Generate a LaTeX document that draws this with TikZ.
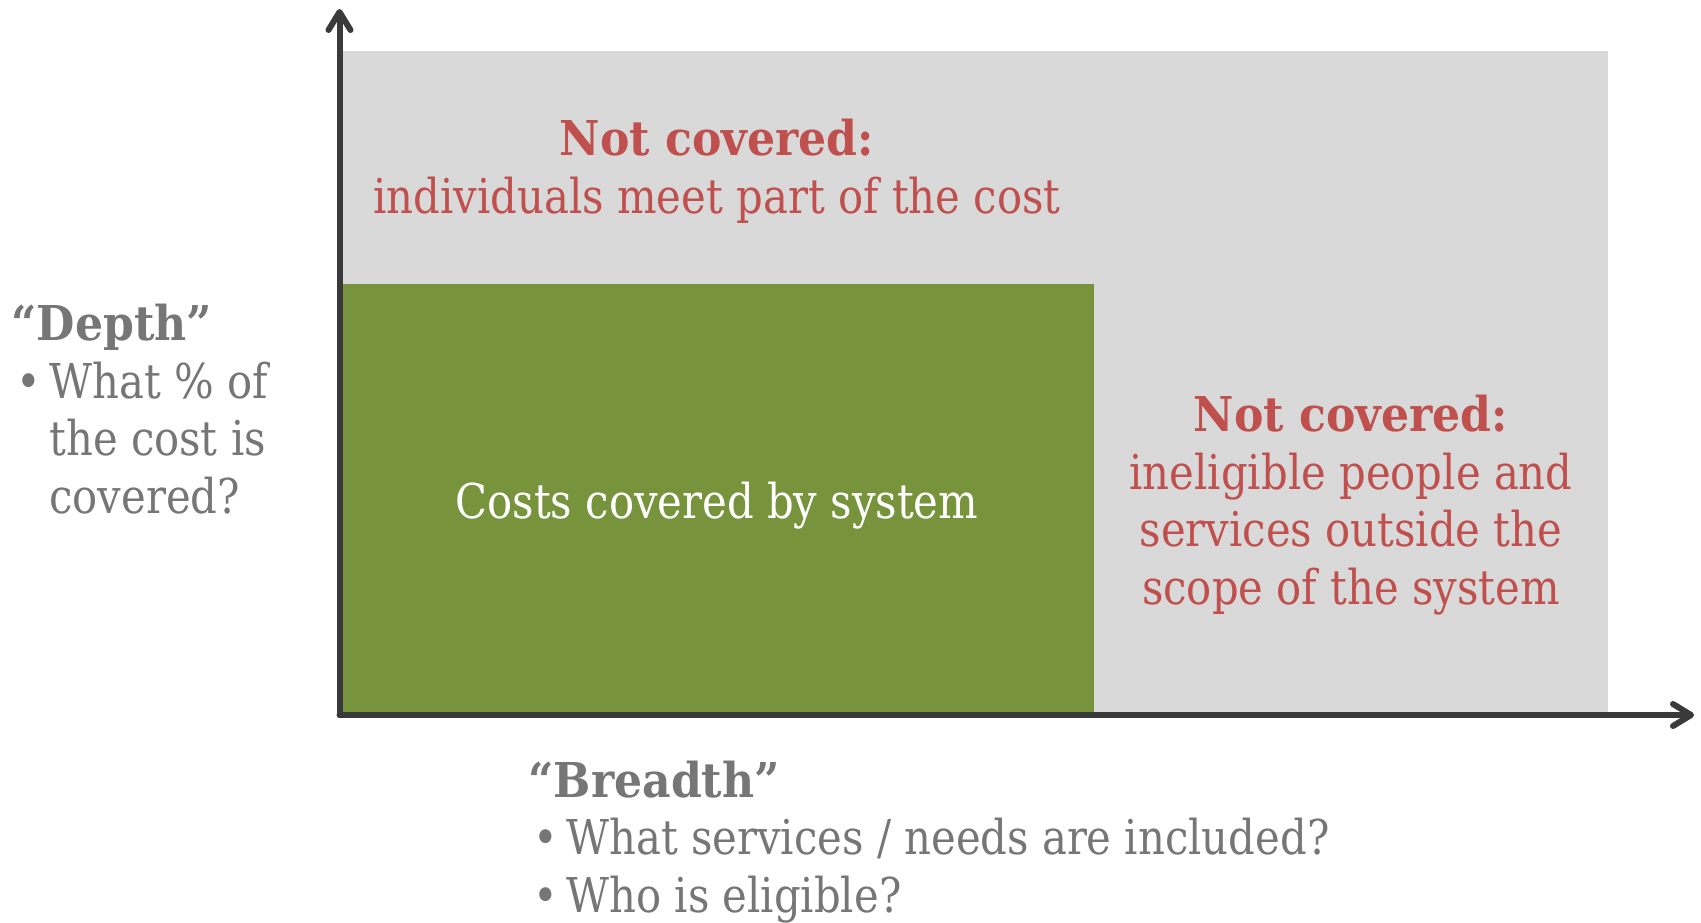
\documentclass[tikz,border=0pt]{standalone}
\usepackage{fontspec}
\setmainfont{DejaVu Serif}[FakeStretch=0.87,BoldFeatures={FakeStretch=0.92}]
\usetikzlibrary{arrows.meta}
\definecolor{axisgray}{HTML}{3A3A3A}
\definecolor{boxgray}{HTML}{D9D9D9}
\definecolor{boxgreen}{HTML}{77933C}
\definecolor{notred}{HTML}{C0504D}
\definecolor{labelgray}{HTML}{767676}
\newcommand{\bul}{\makebox[19pt][l]{\hspace{2.5pt}\textbullet}}
\newcommand{\ind}{\hspace*{19pt}}

\begin{document}
\begin{tikzpicture}
  [x=0.5pt,y=-0.5pt,
   axis/.style={draw=axisgray,line width=3pt,line cap=round,
     -{Straight Barb[length=9pt,width=11pt,line cap=round,line join=round]}},
   redtext/.style={text=notred,align=center,inner sep=0pt,
     font=\fontsize{24}{28.75}\selectfont},
   greytext/.style={text=labelgray,align=left,inner sep=0pt,
     font=\fontsize{24}{28.75}\selectfont}]
  \useasboundingbox (0,0) rectangle (1701,922);

  % areas
  \fill[boxgray] (339.5,51) rectangle (1607.5,714);
  \fill[boxgreen] (339.5,284) rectangle (1093.5,714);

  % axes
  \coordinate (o) at (339.5,715);
  \coordinate (ytip) at (339.5,9);
  \coordinate (xtip) at (1694,715);
  \draw[axis] (o) -- (ytip);
  \draw[axis] (o) -- (xtip);

  % texts
  \node[redtext] (depthout) at (717,171.5)
    {\textbf{Not covered:}\\individuals meet part of the cost};
  \node[redtext] (breadthout) at (1351,505)
    {\textbf{Not covered:}\\ineligible people and\\services outside the\\scope of the system};
  \node[redtext,text=white] (covered) at (717,505.5) {Costs covered by system};

  \node[greytext,anchor=west] (depth) at (11,409)
    {\textbf{“Depth”}\\\bul What \% of\\\ind the cost is\\\ind covered?};
  \node[greytext,anchor=west] (breadth) at (528,842)
    {\textbf{“Breadth”}\\\bul What services / needs are included?\\\bul Who is eligible?};
\end{tikzpicture}
\end{document}
